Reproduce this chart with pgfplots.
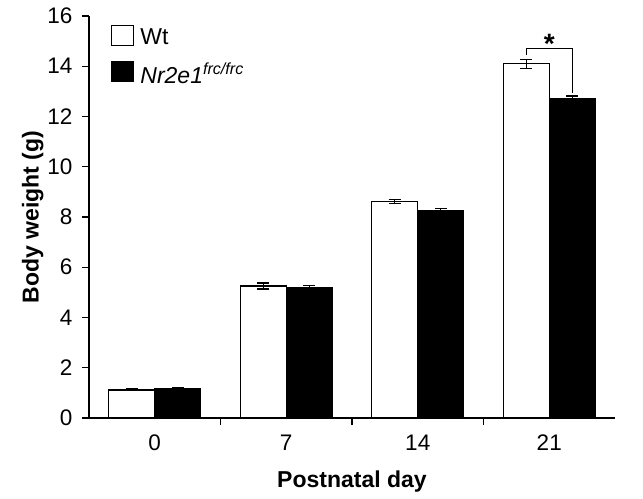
\documentclass[border=0pt]{standalone}
\usepackage{pgfplots}
\pgfplotsset{compat=1.18}
\usepackage{fontspec}
\setmainfont{Liberation Sans}

\begin{document}
\begin{tikzpicture}
\begin{axis}[
    scale only axis,
    width=526pt, height=402pt,
    ybar, bar width=0.35,
    xmin=-0.5, xmax=3.5, ymin=0, ymax=16,
    axis lines*=left,
    axis line style={line width=1.3pt},
    xtick={0,1,2,3}, xticklabels={0,7,14,21},
    major x tick style={draw=none},
    minor xtick={0.5,1.5,2.5},
    ytick={0,2,...,16},
    tick align=outside, major tick length=7pt, minor tick length=7pt,
    tick style={line width=1.3pt, black},
    ticklabel style={font=\fontsize{22.5}{26}\selectfont},
    yticklabel style={xshift=-6pt},
    xticklabel style={yshift=-6pt},
    /pgf/number format/assume math mode=true,
    xlabel={Postnatal day}, ylabel={Body weight (g)},
    label style={font=\fontsize{23}{27}\selectfont\bfseries},
    xlabel style={yshift=-13pt},
    ylabel style={yshift=-3pt},
    legend style={at={(0.036,0.983)}, anchor=north west, draw=none, fill=none,
        font=\fontsize{23}{27}\selectfont, row sep=12pt,
        /tikz/every odd column/.append style={column sep=4pt}},
    legend cell align=left,
    legend image code/.code={\draw[#1, line width=1.3pt] (0pt,-8pt) rectangle (22pt,12pt);},
    error bars/y dir=both, error bars/y explicit,
    error bars/error bar style={line width=1.3pt, black},
    error bars/error mark options={rotate=90, mark size=6pt, line width=1.3pt, black},
]
% Wt
\addplot[fill=white, draw=black, line width=1.3pt, bar shift=-0.175]
coordinates {(0,1.12) +- (0,0.03) (1,5.25) +- (0,0.12) (2,8.62) +- (0,0.08) (3,14.10) +- (0,0.18)};
\addlegendentry{Wt}
% Nr2e1 frc/frc
\addplot[fill=black, draw=black, line width=1.3pt, bar shift=0.175]
coordinates {(0,1.15) +- (0,0.04) (1,5.20) +- (0,0.08) (2,8.27) +- (0,0.06) (3,12.70) +- (0,0.12)};
\addlegendentry{\textit{Nr2e1}\textsuperscript{\textit{frc/frc}}}

\draw[line width=1.3pt] (axis cs:2.825,14.45) -- (axis cs:2.825,14.72)
    -- (axis cs:3.175,14.72) -- (axis cs:3.175,12.93);
\node[anchor=base, font=\fontsize{28}{28}\selectfont\bfseries] at (axis cs:3,14.5) {*};
\end{axis}
\pgfresetboundingbox
\path[use as bounding box] ([shift={(-89pt,-80pt)}]current axis.south west)
    rectangle ([shift={(28pt,16pt)}]current axis.north east);
\end{tikzpicture}
\end{document}
